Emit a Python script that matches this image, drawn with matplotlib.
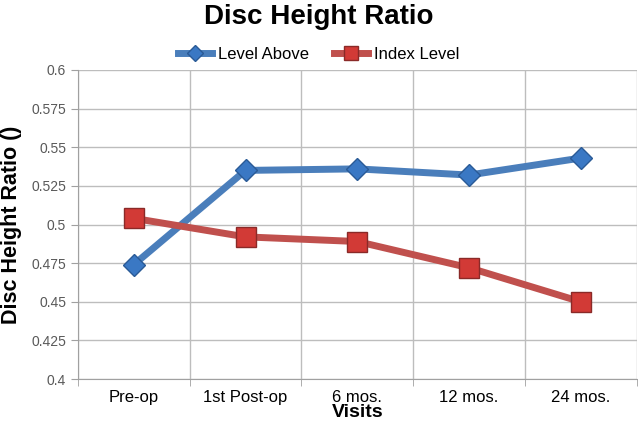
import matplotlib
matplotlib.use("Agg")
import matplotlib.pyplot as plt

visits = ["Pre-op", "1st Post-op", "6 mos.", "12 mos.", "24 mos."]
level_above = [0.474, 0.535, 0.536, 0.532, 0.543]
index_level = [0.504, 0.492, 0.489, 0.472, 0.450]
yticks = [0.4, 0.425, 0.45, 0.475, 0.5, 0.525, 0.55, 0.575, 0.6]
ytick_labels = ["0.4", "0.425", "0.45", "0.475", "0.5", "0.525", "0.55", "0.575", "0.6"]

plt.rcParams["font.family"] = ["Liberation Sans", "DejaVu Sans"]

fig = plt.figure(figsize=(6.38, 4.24), dpi=100)
ax = fig.add_axes([0.122, 0.106, 0.876, 0.729])

x = list(range(len(visits)))
ax.plot(x, level_above, color="#4a7ebb", lw=5, marker="D", ms=11,
        mfc="#3a78c4", mec="#2a5a96", mew=1, label="Level Above", zorder=3)
ax.plot(x, index_level, color="#c0504d", lw=5, marker="s", ms=15,
        mfc="#d23a36", mec="#8a2a28", mew=1, label="Index Level", zorder=3)

ax.set_xlim(-0.5, len(visits) - 0.5)
ax.set_ylim(0.4, 0.6)
ax.set_yticks(yticks)
ax.set_yticklabels(ytick_labels, color="#595959", fontsize=10)
ax.set_xticks(x)
ax.set_xticklabels(visits, fontsize=12)
ax.tick_params(axis="x", length=0, pad=8)
ax.tick_params(axis="y", length=5, color="#a0a0a0", direction="out")

# vertical grid at category boundaries
ax.set_xticks([i + 0.5 for i in range(-1, len(visits))], minor=True)
ax.tick_params(axis="x", which="minor", length=5, color="#a0a0a0", direction="out")
ax.grid(axis="x", which="minor", color="#bdbdbd", lw=1)
ax.grid(axis="y", which="major", color="#bdbdbd", lw=1)

for s in ["top", "right"]:
    ax.spines[s].set_visible(False)
for s in ["left", "bottom"]:
    ax.spines[s].set_color("#a0a0a0")

ax.set_xlabel("Visits", fontsize=14, fontweight="bold", labelpad=-1)
ax.set_ylabel("Disc Height Ratio ()", fontsize=15.5, fontweight="bold")
ax.yaxis.set_label_coords(-0.1, 0.5)

fig.suptitle("Disc Height Ratio", fontsize=20, fontweight="bold", y=0.99)
fig.legend(loc="upper center", bbox_to_anchor=(0.5, 0.925), ncol=2, frameon=False,
           fontsize=12, handlelength=2.0, handletextpad=0.4, columnspacing=1.5,
           markerscale=0.7)

fig.savefig("out.png", dpi=100)
